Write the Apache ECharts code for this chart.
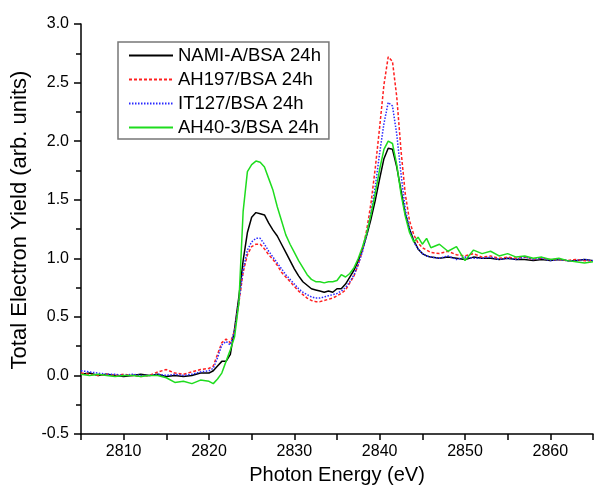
<!DOCTYPE html>
<html>
<head>
<meta charset="utf-8">
<script src="https://cdn.jsdelivr.net/npm/echarts@6/dist/echarts.min.js"></script>
<style>
html,body{margin:0;padding:0;background:#fff;}
#chart{width:596px;height:490px;}
</style>
</head>
<body>
<div id="chart"></div>
<script>
const seriesNames = ['NAMI-A/BSA 24h', 'AH197/BSA 24h', 'IT127/BSA 24h', 'AH40-3/BSA 24h'];

const energy = [
  2805,2806,2807,2808,2809,2810,2811,2812,2813,2814,2815,2816,2817,2818,2819,2820,
  2820.5,2821,2821.5,2822,2822.5,2823,2823.5,2824,2824.5,2825,2825.5,2826,2826.5,2827,2827.5,2828,2828.5,2829,2829.5,2830,
  2830.5,2831,2831.5,2832,2832.5,2833,2833.5,2834,2834.5,2835,2835.5,2836,2836.5,2837,2837.5,2838,2838.5,2839,2839.5,2840,
  2840.5,2841,2841.5,2842,2842.5,2843,2843.5,2844,2844.5,2845,2845.5,2846,
  2847,2848,2849,2850,2851,2852,2853,2854,2855,2856,2857,2858,2859,2860,2861,2862,2863,2864,2865
];

const namiA = [
  0.01,0.02,0.00,0.01,0.00,-0.01,0.00,0.01,0.00,0.01,-0.01,0.00,-0.01,0.00,0.02,0.02,
  0.04,0.08,0.12,0.12,0.18,0.40,0.67,0.98,1.22,1.35,1.39,1.38,1.37,1.30,1.24,1.19,1.12,1.05,0.98,0.91,
  0.85,0.80,0.77,0.74,0.73,0.72,0.71,0.72,0.71,0.74,0.74,0.78,0.84,0.90,0.98,1.08,1.20,1.34,1.50,1.68,
  1.85,1.94,1.93,1.78,1.58,1.38,1.25,1.15,1.08,1.04,1.02,1.01,
  1.00,1.01,1.00,0.99,1.01,1.00,1.00,0.99,1.00,0.99,0.99,0.98,0.99,0.98,0.99,0.98,0.98,0.99,0.98
];

const ah197 = [
  0.02,0.01,0.00,0.01,0.00,0.01,0.00,-0.01,0.00,0.03,0.05,0.02,0.01,0.03,0.05,0.06,
  0.08,0.18,0.28,0.31,0.28,0.38,0.62,0.88,1.03,1.10,1.12,1.12,1.08,1.03,0.99,0.94,0.88,0.84,0.80,0.76,
  0.72,0.69,0.66,0.64,0.63,0.63,0.64,0.65,0.66,0.68,0.70,0.73,0.79,0.85,0.95,1.07,1.25,1.48,1.78,2.12,
  2.48,2.72,2.68,2.38,1.92,1.55,1.32,1.20,1.13,1.09,1.07,1.05,
  1.04,1.06,1.03,1.02,1.04,1.01,1.02,1.00,1.01,1.00,1.01,0.99,1.00,0.99,0.99,0.98,0.99,0.98,0.98
];

const it127 = [
  0.04,0.03,0.02,0.01,0.01,0.00,0.01,0.00,0.00,0.01,0.00,0.01,0.00,0.01,0.03,0.04,
  0.06,0.15,0.26,0.29,0.26,0.38,0.63,0.90,1.07,1.14,1.17,1.17,1.12,1.06,1.01,0.96,0.91,0.86,0.82,0.78,
  0.74,0.71,0.69,0.67,0.66,0.66,0.67,0.68,0.69,0.70,0.72,0.75,0.80,0.86,0.95,1.06,1.21,1.40,1.62,1.90,
  2.15,2.33,2.30,2.06,1.72,1.42,1.25,1.14,1.08,1.04,1.02,1.01,
  1.00,1.02,0.99,1.01,1.00,1.00,1.01,0.99,1.00,0.99,1.01,0.99,1.00,0.98,0.99,0.98,0.98,0.99,0.98
];

const ah40 = [
  0.01,0.00,0.01,0.00,-0.01,0.00,0.00,-0.01,0.00,0.00,-0.02,-0.06,-0.05,-0.07,-0.04,-0.05,
  -0.07,-0.03,0.02,0.12,0.22,0.33,0.62,1.40,1.74,1.80,1.83,1.82,1.78,1.68,1.58,1.44,1.32,1.20,1.12,1.05,
  0.98,0.92,0.86,0.82,0.80,0.80,0.79,0.80,0.80,0.81,0.86,0.84,0.87,0.92,1.00,1.10,1.22,1.38,1.56,1.76,
  1.93,2.00,1.98,1.80,1.55,1.36,1.22,1.14,1.18,1.12,1.17,1.09,
  1.12,1.06,1.10,0.98,1.07,1.04,1.06,1.02,1.04,1.01,1.02,1.00,1.01,0.99,1.00,0.98,0.97,0.96,0.97
];

const xTickLabels = [2810, 2820, 2830, 2840, 2850, 2860];
const yTickLabels = ['-0.5', '0.0', '0.5', '1.0', '1.5', '2.0', '2.5', '3.0'];

const FONT = "'Liberation Sans', Arial, sans-serif";
const pair = ys => energy.map((e, i) => [e, ys[i]]);

const styles = [
  { color: '#000000', type: 'solid' },
  { color: '#ff2020', type: [3, 2] },
  { color: '#2a2aff', type: [1.5, 1.5] },
  { color: '#1edc1e', type: 'solid' }
];
const values = [namiA, ah197, it127, ah40];

const chart = echarts.init(document.getElementById('chart'), null, { renderer: 'canvas' });
chart.setOption({
  animation: false,
  backgroundColor: '#ffffff',
  textStyle: { fontFamily: FONT },
  grid: { left: 81, right: 0, top: 24, bottom: 52, containLabel: false },
  legend: {
    orient: 'vertical',
    left: 118, top: 42,
    padding: [4, 8, 2, 10],
    itemWidth: 44, itemHeight: 14, itemGap: 5,
    borderColor: '#777', borderWidth: 1.5,
    itemStyle: { opacity: 0 },
    textStyle: { fontSize: 18.5, lineHeight: 19, color: '#000', fontFamily: FONT },
    data: seriesNames
  },
  xAxis: {
    type: 'value', min: 2805, max: 2865, interval: 5,
    name: 'Photon Energy (eV)', nameLocation: 'middle', nameGap: 31,
    nameTextStyle: { fontSize: 20, color: '#000', fontFamily: FONT },
    axisLine: { show: true, onZero: false, lineStyle: { color: '#000', width: 1.5 } },
    axisTick: { show: true, length: 6, lineStyle: { color: '#000', width: 1.5 } },
    axisLabel: {
      margin: 10, fontSize: 16, color: '#000', fontFamily: FONT,
      formatter: v => (xTickLabels.indexOf(v) >= 0 ? String(v) : '')
    },
    splitLine: { show: false }
  },
  yAxis: {
    type: 'value', min: -0.5, max: 3.0, interval: 0.5,
    name: 'Total Electron Yield (arb. units)', nameLocation: 'middle', nameGap: 48,
    nameTextStyle: { fontSize: 22, color: '#000', fontFamily: FONT, padding: [0, 0, 0, 18] },
    axisLine: { show: true, onZero: false, lineStyle: { color: '#000', width: 1.5 } },
    axisTick: { show: true, length: 7, lineStyle: { color: '#000', width: 1.5 } },
    minorTick: { show: true, splitNumber: 2, length: 5, lineStyle: { color: '#000', width: 1.5 } },
    axisLabel: {
      margin: 12, fontSize: 16, color: '#000', fontFamily: FONT,
      formatter: v => yTickLabels[Math.round((v + 0.5) / 0.5)]
    },
    splitLine: { show: false }
  },
  series: seriesNames.map((n, k) => ({
    name: n,
    type: 'line',
    data: pair(values[k]),
    symbol: 'none',
    showSymbol: false,
    smooth: false,
    color: styles[k].color,
    lineStyle: { color: styles[k].color, width: 1.5, type: styles[k].type }
  }))
});
</script>
</body>
</html>
